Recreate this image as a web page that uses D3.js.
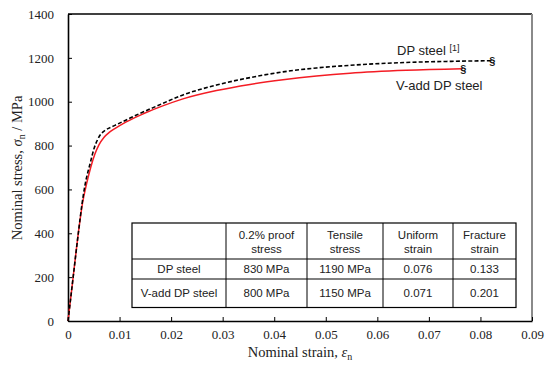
<!DOCTYPE html>
<html><head><meta charset="utf-8">
<script src="https://cdn.jsdelivr.net/npm/d3@7"></script>
<style>body{margin:0;background:#fff}svg{display:block}</style>
</head><body>
<svg id="c" width="545" height="370"></svg>
<script>
const xTicks = [0,0.01,0.02,0.03,0.04,0.05,0.06,0.07,0.08,0.09];
const yTicks = [0,200,400,600,800,1000,1200,1400];
const dpStrain = [0,0.0010,0.0020,0.0027,0.0033,0.0043,0.0051,0.0058,0.0064,0.0070,0.0091,0.0114,0.0140,0.0170,0.0223,0.0288,0.0353,0.0417,0.0482,0.0547,0.0656,0.0740,0.0821];
const dpStress = [0,200,400,530,620,719,790,830,853,866,892,918,947,978,1031,1076,1110,1136,1154,1166,1179,1184,1187];
const vStrain = [0,0.0010,0.0020,0.0028,0.0036,0.0044,0.0052,0.0060,0.0070,0.0080,0.0090,0.0113,0.0146,0.0185,0.0223,0.0288,0.0353,0.0417,0.0482,0.0547,0.0656,0.0765];
const vStress = [0,200,400,535,625,700,760,803,838,860,876,908,945,982,1013,1051,1079,1100,1117,1130,1143,1150];
const tableHeader = [["",""],["0.2% proof","stress"],["Tensile","stress"],["Uniform","strain"],["Fracture","strain"]];
const tableRows = [["DP steel","830 MPa","1190 MPa","0.076","0.133"],["V-add DP steel","800 MPa","1150 MPa","0.071","0.201"]];

const svg = d3.select("#c");
const L=68,R=532,T=14,B=321;
const x = d3.scaleLinear().domain([0,0.09]).range([L,R]);
const y = d3.scaleLinear().domain([0,1400]).range([B,T]);
const serif = "'Liberation Serif','Times New Roman',serif";
const sans = "'Liberation Sans',Arial,sans-serif";

// frame
svg.append("line").attr("x1",L).attr("x2",R).attr("y1",T).attr("y2",T).attr("stroke","#000").attr("stroke-width",1.3);
svg.append("line").attr("x1",R).attr("x2",R).attr("y1",T).attr("y2",B).attr("stroke","#8a8a8a").attr("stroke-width",2);

const xa = svg.append("g").attr("transform",`translate(0,${B})`)
  .call(d3.axisBottom(x).tickValues(xTicks).tickSizeInner(-4).tickSizeOuter(0).tickPadding(9).tickFormat(d=>d===0?"0":d3.format(".2f")(d)));
const ya = svg.append("g").attr("transform",`translate(${L},0)`)
  .call(d3.axisLeft(y).tickValues(yTicks).tickSizeInner(-4).tickSizeOuter(0).tickPadding(14).tickFormat(d3.format("d")));
[xa,ya].forEach(a=>{
  a.select(".domain").attr("stroke","#000").attr("stroke-width",1.6);
  a.selectAll(".tick line").attr("stroke","#000").attr("stroke-width",1);
  a.selectAll("text").attr("font-family",serif).attr("font-size",13).attr("fill","#222");
});

// curves
const line = d3.line().x(d=>x(d[0])).y(d=>y(d[1])).curve(d3.curveMonotoneX);
const vData = vStrain.map((s,i)=>[s,vStress[i]]);
const dpData = dpStrain.map((s,i)=>[s,dpStress[i]]);
svg.append("path").attr("d",line(vData)).attr("fill","none").attr("stroke","#f41c24").attr("stroke-width",1.5);
svg.append("path").attr("d",line(dpData)).attr("fill","none").attr("stroke","#000").attr("stroke-width",1.6).attr("stroke-dasharray","4,2.2");

// fracture marks
[dpData[dpData.length-1],vData[vData.length-1]].forEach(p=>{
  svg.append("text").attr("x",x(p[0])+1).attr("y",y(p[1])).attr("text-anchor","middle").attr("dominant-baseline","central")
    .attr("font-family",sans).attr("font-size",11).attr("font-weight","bold").attr("fill","#111").text("§");
});

// labels
const t1 = svg.append("text").attr("x",397).attr("y",55).attr("font-family",sans).attr("font-size",13).attr("fill","#222");
t1.append("tspan").text("DP steel ");
t1.append("tspan").attr("font-size",9).attr("dy",-4).text("[1]");
svg.append("text").attr("x",396).attr("y",90).attr("font-family",sans).attr("font-size",13).attr("fill","#222").text("V-add DP steel");

// axis titles
const xt = svg.append("text").attr("x",300).attr("y",357).attr("text-anchor","middle").attr("font-family",serif).attr("font-size",14.5).attr("fill","#222");
xt.append("tspan").text("Nominal strain, ");
xt.append("tspan").attr("font-style","italic").text("ε");
xt.append("tspan").attr("font-size",10).attr("dy",3).text("n");
const yt = svg.append("text").attr("transform","translate(22,168) rotate(-90)").attr("text-anchor","middle").attr("font-family",serif).attr("font-size",14.5).attr("fill","#222");
yt.append("tspan").text("Nominal stress, ");
yt.append("tspan").attr("font-style","italic").text("σ");
yt.append("tspan").attr("font-size",10).attr("dy",3).text("n");
yt.append("tspan").attr("dy",-3).text(" / MPa");

// table
const colX = [132,226,307,383,453,516];
const rowY = [223,259,279,307.5];
const tg = svg.append("g");
tg.append("rect").attr("x",colX[0]).attr("y",rowY[0]).attr("width",colX[5]-colX[0]).attr("height",rowY[3]-rowY[0]).attr("fill","#fff").attr("stroke","#000").attr("stroke-width",1.2);
colX.slice(1,5).forEach(cx=>tg.append("line").attr("x1",cx).attr("x2",cx).attr("y1",rowY[0]).attr("y2",rowY[3]).attr("stroke","#000").attr("stroke-width",1));
rowY.slice(1,3).forEach(ry=>tg.append("line").attr("x1",colX[0]).attr("x2",colX[5]).attr("y1",ry).attr("y2",ry).attr("stroke","#000").attr("stroke-width",1));
const cellText = (t,cx,cy)=>tg.append("text").attr("x",cx).attr("y",cy).attr("text-anchor","middle").attr("dominant-baseline","central").attr("font-family",sans).attr("font-size",11.5).attr("fill","#222").text(t);
tableHeader.forEach((h,i)=>{
  const cx=(colX[i]+colX[i+1])/2;
  cellText(h[0],cx,235); cellText(h[1],cx,249);
});
tableRows.forEach((r,j)=>{
  const cy=(rowY[j+1]+rowY[j+2])/2;
  r.forEach((v,i)=>cellText(v,(colX[i]+colX[i+1])/2,cy));
});
</script>
</body></html>
